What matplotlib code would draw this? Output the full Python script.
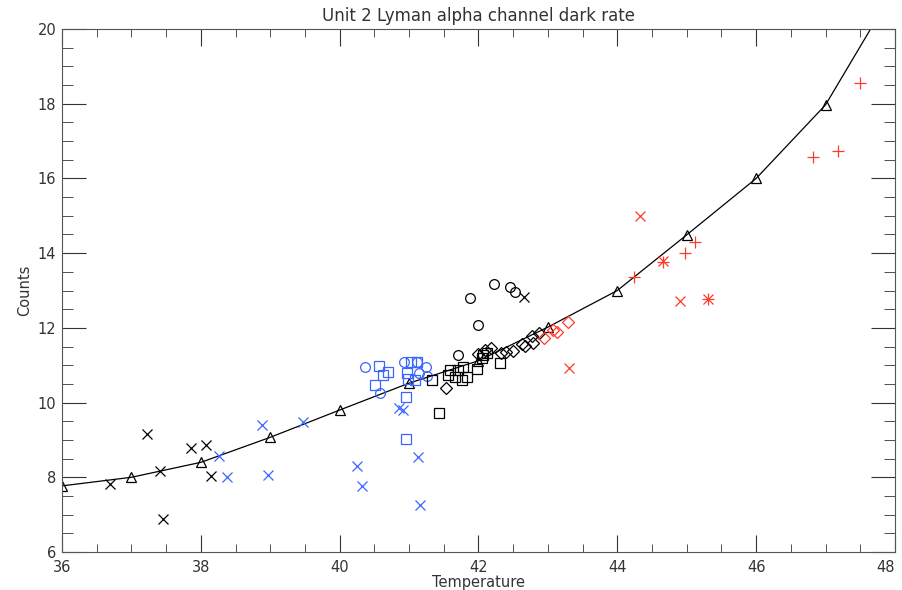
import numpy as np
import matplotlib
matplotlib.use("Agg")
import matplotlib.pyplot as plt
from matplotlib.ticker import MultipleLocator

# Fit curve (triangles at integer temperatures)
fit_temp = [36, 37, 38, 39, 40, 41, 42, 43, 44, 45, 46, 47, 48]
fit_counts = [7.77, 8.0, 8.4, 9.07, 9.8, 10.52, 11.12, 12.02, 13.0, 14.49, 16.0, 17.97, 21.1]

# Black X
kx_t = [36.69, 37.22, 37.41, 37.46, 37.86, 38.07, 38.15, 42.66]
kx_c = [7.82, 9.16, 8.17, 6.88, 8.78, 8.86, 8.03, 12.83]

# Blue X
bx_t = [38.26, 38.38, 38.88, 38.97, 39.47, 40.25, 40.32, 40.85, 40.92, 41.13, 41.16]
bx_c = [8.57, 8.0, 9.4, 8.06, 9.48, 8.3, 7.77, 9.86, 9.8, 8.54, 7.26]

# Blue circles
bo_t = [40.37, 40.58, 40.93, 41.11, 41.24, 41.14, 41.26]
bo_c = [10.95, 10.26, 11.09, 11.09, 10.95, 10.8, 10.7]

# Blue squares
bs_t = [40.51, 40.62, 40.69, 40.56, 41.03, 41.11, 40.97, 40.99, 41.09, 40.96, 40.96]
bs_c = [10.48, 10.74, 10.83, 10.98, 11.09, 11.09, 10.78, 10.64, 10.61, 10.15, 9.02]

# Black squares
ks_t = [41.43, 41.33, 41.59, 41.56, 41.66, 41.7, 41.84, 41.76, 41.98, 42.05, 42.12, 42.31, 42.06, 41.78]
ks_c = [9.72, 10.6, 10.87, 10.73, 10.69, 10.87, 10.69, 10.6, 10.89, 11.2, 11.33, 11.06, 11.27, 10.95]

# Black circles
ko_t = [41.88, 42.22, 41.99, 42.46, 42.53, 41.7]
ko_c = [12.8, 13.17, 12.08, 13.09, 12.96, 11.28]

# Black diamonds
kd_t = [41.53, 41.99, 42.1, 42.18, 42.32, 42.4, 42.5, 42.63, 42.67, 42.77, 42.79, 42.87]
kd_c = [10.39, 11.31, 11.4, 11.45, 11.33, 11.36, 11.38, 11.58, 11.52, 11.77, 11.6, 11.86]

# Red diamonds
rd_t = [42.95, 43.07, 43.13, 43.29]
rd_c = [11.73, 11.94, 11.89, 12.16]

# Red X
rx_t = [43.3, 44.33, 44.66, 44.9]
rx_c = [10.93, 14.99, 13.79, 12.72]

# Red plus
rp_t = [44.24, 44.66, 44.98, 45.12, 46.82, 47.18, 47.5]
rp_c = [13.36, 13.76, 14.0, 14.3, 16.57, 16.73, 18.55]

# Red asterisk
ra_t = [45.31]
ra_c = [12.77]

# Tick labels
x_ticks = [36, 38, 40, 42, 44, 46, 48]
y_ticks = [6, 8, 10, 12, 14, 16, 18, 20]

blue = "#3a66ff"
red = "#ff3a2a"

fig = plt.figure(figsize=(9.02, 5.90), dpi=100)
ax = fig.add_axes([0.0687, 0.0644, 0.9235, 0.8864])

ax.plot(fit_temp, fit_counts, color="black", lw=0.9)
ax.plot(fit_temp[:-1], fit_counts[:-1], ls="none", marker="^", ms=7.5, mfc="none", mec="black", mew=0.9)

def pts(t, c, m, col, ms=7.5):
    ax.plot(t, c, ls="none", marker=m, ms=ms, mfc="none", mec=col, mew=0.9)

pts(kx_t, kx_c, "x", "black")
pts(bx_t, bx_c, "x", blue)
pts(bo_t, bo_c, "o", blue, ms=7)
pts(bs_t, bs_c, "s", blue, ms=7)
pts(ks_t, ks_c, "s", "black", ms=7)
pts(ko_t, ko_c, "o", "black", ms=7)
pts(kd_t, kd_c, "D", "black", ms=6)
pts(rd_t, rd_c, "D", red, ms=6)
pts(rx_t, rx_c, "x", red)
pts(rp_t, rp_c, "+", red, ms=9)
pts(ra_t, ra_c, "x", red)
pts(ra_t, ra_c, "+", red, ms=9)

ax.set_xlim(36, 48)
ax.set_ylim(6, 20)
ax.set_xticks(x_ticks, [str(v) for v in x_ticks])
ax.set_yticks(y_ticks, [str(v) for v in y_ticks])
ax.xaxis.set_minor_locator(MultipleLocator(0.5))
ax.yaxis.set_minor_locator(MultipleLocator(0.5))
ax.tick_params(which="both", direction="in", top=True, right=True, labelsize=10.5, colors="#333333")
ax.tick_params(axis="x", which="major", length=12, pad=6)
ax.tick_params(axis="x", which="minor", length=6)
ax.tick_params(axis="y", which="major", length=17, pad=4)
ax.tick_params(axis="y", which="minor", length=8)
for s in ax.spines.values():
    s.set_color("#555555")

# keep the last x tick label inside the figure
ax.xaxis.get_major_ticks()[-1].label1.set_horizontalalignment("right")

ax.set_title("Unit 2 Lyman alpha channel dark rate", fontsize=12, color="#333333", pad=6)
ax.set_xlabel("Temperature", fontsize=10.5, color="#333333", labelpad=0)
ax.set_ylabel("Counts", fontsize=10.5, color="#333333", labelpad=4)

fig.savefig("out.png", dpi=100)
